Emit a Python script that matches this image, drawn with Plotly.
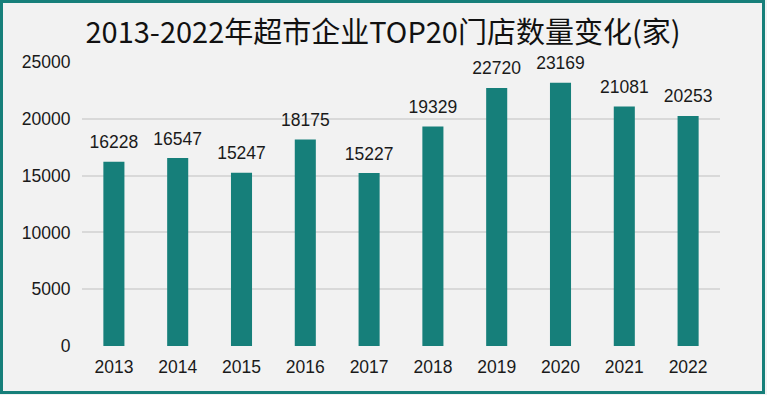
import plotly.graph_objects as go

years = ["2013", "2014", "2015", "2016", "2017", "2018", "2019", "2020", "2021", "2022"]
stores = [16228, 16547, 15247, 18175, 15227, 19329, 22720, 23169, 21081, 20253]
y_ticks = [0, 5000, 10000, 15000, 20000, 25000]
title_text = "2013-2022年超市企业TOP20门店数量变化(家)"

W, H = 767, 395
L, R, T, B = 82, 47, 62, 49
pw, ph = W - L - R, H - T - B

teal = "#167f7a"
num_font = "Liberation Sans, Arial, sans-serif"

fig = go.Figure()
fig.add_trace(go.Bar(
    x=years, y=stores,
    marker=dict(color=teal, line=dict(width=0)),
    width=0.33,
    hoverinfo="skip",
))
fig.add_trace(go.Scatter(
    x=years, y=stores,
    mode="markers+text",
    marker=dict(size=13, color="rgba(0,0,0,0)"),
    text=[str(v) for v in stores],
    textposition="top center",
    textfont=dict(size=17.5, color="#1a1a1a", family=num_font),
    cliponaxis=False,
    hoverinfo="skip",
))

fig.update_layout(
    width=W, height=H,
    margin=dict(l=L, r=R, t=T, b=B, autoexpand=False),
    paper_bgcolor="#f2f2f2",
    plot_bgcolor="#f2f2f2",
    showlegend=False,
    title=dict(
        text=title_text,
        x=383 / W, xanchor="center", xref="container",
        y=(H - 33) / H, yanchor="middle", yref="container",
        font=dict(size=29, color="#111111", family="Noto Sans CJK SC, sans-serif"),
    ),
    xaxis=dict(
        type="category",
        categoryorder="array", categoryarray=years,
        range=[-0.5, len(years) - 0.5],
        showgrid=False, zeroline=False, showline=False,
        tickfont=dict(size=17.5, color="#1a1a1a", family=num_font),
        ticks="outside", ticklen=5, tickcolor="rgba(0,0,0,0)",
    ),
    yaxis=dict(
        range=[0, 25000],
        tickvals=y_ticks,
        ticktext=[str(v) for v in y_ticks],
        showgrid=True, gridcolor="#d9d9d9", gridwidth=1.5,
        zeroline=False, showline=False,
        tickfont=dict(size=17.5, color="#1a1a1a", family=num_font),
        ticks="outside", ticklen=7, tickcolor="rgba(0,0,0,0)",
    ),
    bargap=0.5,
)

# outer teal frame around the whole picture
fig.add_shape(
    type="rect", xref="paper", yref="paper",
    x0=(-L + 1.5) / pw, x1=1 + (R - 3.5) / pw,
    y0=(-B + 2.5) / ph, y1=1 + (T - 1.5) / ph,
    line=dict(color=teal, width=3),
    fillcolor="rgba(0,0,0,0)",
    layer="above",
)

fig.write_html(
    "out.html",
    config={"displayModeBar": False},
    post_script="document.body.style.margin='0';document.body.style.padding='0';",
)
